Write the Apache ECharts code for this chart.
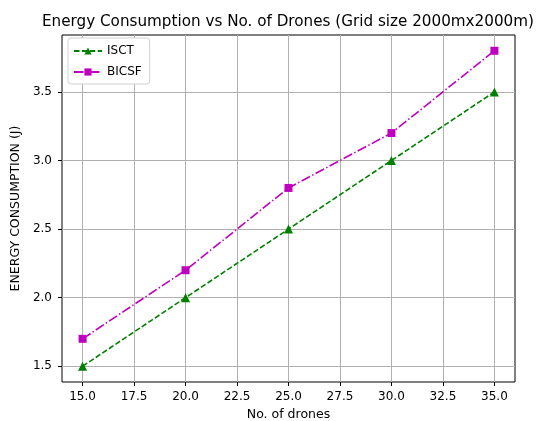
<!DOCTYPE html>
<html style="height: 100%">
<head>
    <meta charset="utf-8">
</head>
<body style="height: 100%; margin: 0; background: #fff">
<div id="container" style="width: 541px; height: 421px"></div>

<script type="text/javascript" src="https://cdn.jsdelivr.net/npm/echarts@6/dist/echarts.min.js"></script>
<script type="text/javascript">
    // data
    var drones = [15, 20, 25, 30, 35];
    var isct = [1.5, 2.0, 2.5, 3.0, 3.5];
    var bicsf = [1.7, 2.2, 2.8, 3.2, 3.8];
    var xTicks = [15, 17.5, 20, 22.5, 25, 27.5, 30, 32.5, 35];
    var yTicks = [1.5, 2.0, 2.5, 3.0, 3.5];

    function pairs(xs, ys) {
        return xs.map(function (x, i) { return [x, ys[i]]; });
    }

    var dom = document.getElementById("container");
    var myChart = echarts.init(dom);
    var font = 'DejaVu Sans';

    var option = {
        animation: false,
        backgroundColor: '#fff',
        textStyle: {fontFamily: font},
        title: {
            text: 'Energy Consumption vs No. of Drones (Grid size 2000mx2000m)',
            left: 283, top: 10, textAlign: 'center',
            textStyle: {fontFamily: font, fontSize: 15.2, fontWeight: 'normal', color: '#000'}
        },
        grid: {
            left: 62, right: 26, top: 35, bottom: 39,
            outerBoundsMode: 'none',
            show: true, borderColor: '#000', borderWidth: 1, backgroundColor: 'transparent'
        },
        legend: {
            left: 68, top: 38, orient: 'vertical',
            itemWidth: 28, itemHeight: 9, itemGap: 9,
            padding: [7, 8, 6, 5],
            borderColor: '#d0d0d0', borderWidth: 1, borderRadius: 3,
            backgroundColor: '#fff',
            textStyle: {fontFamily: font, fontSize: 12, color: '#000'},
            data: ['ISCT', 'BICSF']
        },
        xAxis: {
            type: 'value', min: 14, max: 36,
            name: 'No. of drones', nameLocation: 'middle', nameGap: 25,
            nameTextStyle: {fontFamily: font, fontSize: 12.5, color: '#000'},
            axisLine: {show: false},
            axisTick: {show: true, inside: false, length: 4, customValues: xTicks, lineStyle: {color: '#000'}},
            axisLabel: {customValues: xTicks, color: '#000', fontSize: 12, margin: 9,
                formatter: function (v) { return v.toFixed(1); }},
            splitLine: {show: true, lineStyle: {color: '#b0b0b0', width: 1}}
        },
        yAxis: {
            type: 'value', min: 1.385, max: 3.915,
            name: 'ENERGY CONSUMPTION (J)', nameLocation: 'middle', nameGap: 30,
            nameTextStyle: {fontFamily: font, fontSize: 12.5, color: '#000'},
            axisLine: {show: false},
            axisTick: {show: true, inside: false, length: 4, customValues: yTicks, lineStyle: {color: '#000'}},
            axisLabel: {customValues: yTicks, color: '#000', fontSize: 12, margin: 10,
                formatter: function (v) { return v.toFixed(1); }},
            splitLine: {show: true, lineStyle: {color: '#b0b0b0', width: 1}}
        },
        series: [
            {
                name: 'ISCT', type: 'line',
                data: pairs(drones, isct),
                symbol: 'triangle', symbolSize: 9,
                itemStyle: {color: '#008000'},
                lineStyle: {color: '#008000', width: 1.6, type: [5.5, 2.4]}
            },
            {
                name: 'BICSF', type: 'line',
                data: pairs(drones, bicsf),
                symbol: 'rect', symbolSize: 8,
                itemStyle: {color: '#bf00bf'},
                lineStyle: {color: '#bf00bf', width: 1.6, type: [9.6, 2.4, 1.5, 2.4]}
            }
        ]
    };

    myChart.setOption(option);
</script>
</body>
</html>
